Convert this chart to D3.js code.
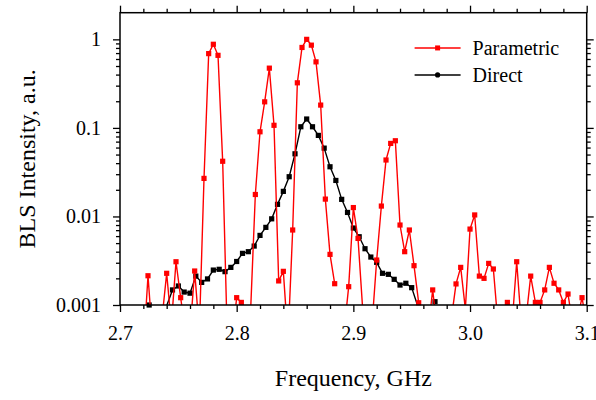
<!DOCTYPE html>
<html>
<head>
<meta charset="utf-8">
<script src="https://cdn.jsdelivr.net/npm/d3@7"></script>
<style>
    body { margin: 0; background: #fff; }
    svg text { font-family: "Liberation Serif", "Times New Roman", serif; fill: #000; }
</style>
</head>
<body>
<div id="chart"></div>
<script>
// Parametric spectrum (red), step 0.004 GHz; null = no signal
const paramFreq = [2.720, 2.724, 2.728, 2.732, 2.736, 2.740, 2.744, 2.748, 2.752, 2.756,
    2.760, 2.764, 2.768, 2.772, 2.776, 2.780, 2.784, 2.788, 2.792, 2.796,
    2.800, 2.804, 2.808, 2.812, 2.816, 2.820, 2.824, 2.828, 2.832, 2.836,
    2.840, 2.844, 2.848, 2.852, 2.856, 2.860, 2.864, 2.868, 2.872, 2.876,
    2.880, 2.884, 2.888, 2.892, 2.896, 2.900, 2.904, 2.908, 2.912, 2.916,
    2.920, 2.924, 2.928, 2.932, 2.936, 2.940, 2.944, 2.948, 2.952, 2.956,
    2.960, 2.964, 2.968, 2.972, 2.976, 2.980, 2.984, 2.988, 2.992, 2.996,
    3.000, 3.004, 3.008, 3.012, 3.016, 3.020, 3.024, 3.028, 3.032, 3.036,
    3.040, 3.044, 3.048, 3.052, 3.056, 3.060, 3.064, 3.068, 3.072, 3.076,
    3.080, 3.084, 3.088, 3.092, 3.096, 3.100];
const paramIntensity = [0.0003, 0.00214, 0.0004, 0.0003, 0.0007, 0.00228, 0.0006, 0.00308, 0.00121, 0.0005,
    0.0005, 0.00242, 0.0005, 0.0269, 0.69, 0.88, 0.66, 0.042, 0.0004, 0.0004,
    0.00121, 0.00107, 0.0009, 0.0009, 0.0177, 0.0904, 0.197, 0.473, 0.107, 0.00187,
    0.0024, 0.0004, 0.00703, 0.323, 0.81, 1.0, 0.86, 0.557, 0.181, 0.0157,
    0.00373, 0.00174, null, 0.0005, 0.00161, 0.0126, 0.00565, 0.0009, 0.0004, 0.0006,
    0.00322, 0.0131, 0.0434, 0.0668, 0.0716, 0.008, 0.004, 0.00703, 0.00278, 0.00106,
    0.0005, 0.0005, 0.00148, 0.0005, 0.0004, 0.0004, 0.0007, 0.00173, 0.00266, 0.0009,
    0.0072, 0.0104, 0.00212, 0.002, 0.00295, 0.00255, 0.0006, 0.0006, 0.00107, 0.0006,
    0.00308, 0.0006, 0.0007, 0.00212, 0.00107, 0.00107, 0.00148, 0.00266, 0.00176, 0.00148,
    0.00107, 0.00133, 0.0006, 0.0007, 0.00121, 0.0006];

// Direct spectrum (black), step 0.005 GHz
const directFreq = [2.725, 2.730, 2.735, 2.740, 2.745, 2.750, 2.755, 2.760, 2.765, 2.770,
    2.775, 2.780, 2.785, 2.790, 2.795, 2.800, 2.805, 2.810, 2.815, 2.820,
    2.825, 2.830, 2.835, 2.840, 2.845, 2.850, 2.855, 2.860, 2.865, 2.870,
    2.875, 2.880, 2.885, 2.890, 2.895, 2.900, 2.905, 2.910, 2.915, 2.920,
    2.925, 2.930, 2.935, 2.940, 2.945, 2.950, 2.955, 2.960, 2.965, 2.970, 2.975];
const directIntensity = [0.001, 0.0005, 0.0005, 0.00098, 0.00148, 0.00164, 0.0014, 0.00136, 0.00212, 0.0018,
    0.00197, 0.00248, 0.00253, 0.00238, 0.00266, 0.0031, 0.00383, 0.004, 0.00463, 0.00611,
    0.00753, 0.0094, 0.0137, 0.0192, 0.0281, 0.051, 0.103, 0.126, 0.103, 0.0823,
    0.0591, 0.0364, 0.0255, 0.0156, 0.0111, 0.0074, 0.0059, 0.00432, 0.00348, 0.00303,
    0.00228, 0.00222, 0.00195, 0.00168, 0.00176, 0.00157, 0.00099, null, null, 0.00109, null];

const xTicks = [2.7, 2.8, 2.9, 3.0, 3.1];
const yTicks = [0.001, 0.01, 0.1, 1];
const seriesNames = ["Parametric", "Direct"];

const margin = {top: 12.7, right: 9.3, bottom: 95, left: 120},
      width = 596 - margin.left - margin.right,
      height = 400 - margin.top - margin.bottom;

const svg = d3.select("#chart")
    .append("svg")
    .attr("width", 596)
    .attr("height", 400);

const g = svg.append("g")
    .attr("transform", "translate(" + margin.left + "," + margin.top + ")");

const x = d3.scaleLinear().domain([2.7, 3.1]).range([0, width]);
const y = d3.scaleLog().domain([0.001, 2]).range([height, 0]);

g.append("defs").append("clipPath")
    .attr("id", "plot-clip")
    .append("rect")
    .attr("width", width)
    .attr("height", height);

function drawAxes() {
    let xMinor = [];
    for (let i = 0; i <= 20; i++) xMinor.push(2.7 + i * 0.02);
    xMinor = xMinor.filter(function (v) {
        return !xTicks.some(function (t) { return Math.abs(t - v) < 1e-6; });
    });
    let yMinor = [];
    yTicks.forEach(function (d) {
        for (let m = 2; m <= 9; m++) if (d * m < 2) yMinor.push(d * m);
    });

    function styleAxis(sel) {
        sel.select(".domain").remove();
        sel.selectAll("line").attr("stroke", "#000").attr("stroke-width", 1.3);
        sel.selectAll("text")
            .style("font-size", "20px");
    }

    // bottom
    g.append("g").attr("transform", "translate(0," + height + ")")
        .call(d3.axisBottom(x).tickValues(xTicks).tickSize(7).tickPadding(14)
            .tickFormat(d3.format(".1f")))
        .call(styleAxis);
    g.append("g").attr("transform", "translate(0," + height + ")")
        .call(d3.axisBottom(x).tickValues(xMinor).tickSize(4).tickFormat(""))
        .call(styleAxis);
    // top
    g.append("g")
        .call(d3.axisTop(x).tickValues(xTicks).tickSize(7).tickFormat(""))
        .call(styleAxis);
    g.append("g")
        .call(d3.axisTop(x).tickValues(xMinor).tickSize(4).tickFormat(""))
        .call(styleAxis);
    // left
    g.append("g")
        .call(d3.axisLeft(y).tickValues(yTicks).tickSize(7).tickPadding(12)
            .tickFormat(function (d) { return String(d); }))
        .call(styleAxis);
    g.append("g")
        .call(d3.axisLeft(y).tickValues(yMinor).tickSize(4).tickFormat(""))
        .call(styleAxis);
    // right
    g.append("g").attr("transform", "translate(" + width + ",0)")
        .call(d3.axisRight(y).tickValues(yTicks).tickSize(7).tickFormat(""))
        .call(styleAxis);
    g.append("g").attr("transform", "translate(" + width + ",0)")
        .call(d3.axisRight(y).tickValues(yMinor).tickSize(4).tickFormat(""))
        .call(styleAxis);

    g.append("rect")
        .attr("width", width)
        .attr("height", height)
        .attr("fill", "none")
        .attr("stroke", "#000")
        .attr("stroke-width", 1.5);
}

function drawSeries(freqs, values, color) {
    const pts = freqs.map(function (f, i) { return {x: f, y: values[i]}; });
    const line = d3.line()
        .defined(function (d) { return d.y !== null; })
        .x(function (d) { return x(d.x); })
        .y(function (d) { return y(d.y); });

    g.append("path")
        .datum(pts)
        .attr("clip-path", "url(#plot-clip)")
        .attr("fill", "none")
        .attr("stroke", color)
        .attr("stroke-width", 1.4)
        .attr("d", line);

    g.append("g").selectAll("rect")
        .data(pts.filter(function (d) { return d.y !== null && d.y >= 0.001; }))
        .join("rect")
        .attr("x", function (d) { return x(d.x) - 2.6; })
        .attr("y", function (d) { return y(d.y) - 2.6; })
        .attr("width", 5.2)
        .attr("height", 5.2)
        .attr("fill", color);
}

function drawLegend() {
    const colors = ["#ff0000", "#000000"];
    const legend = g.append("g").attr("transform", "translate(" + x(2.9525) + "," + y(0.8) + ")");
    seriesNames.forEach(function (name, i) {
        const row = legend.append("g").attr("transform", "translate(0," + (i * 27) + ")");
        row.append("line")
            .attr("x1", 0).attr("x2", 46)
            .attr("stroke", colors[i])
            .attr("stroke-width", 1.4);
        if (i === 0) {
            row.append("rect")
                .attr("x", 20.5).attr("y", -2.5)
                .attr("width", 5).attr("height", 5)
                .attr("fill", colors[i]);
        } else {
            row.append("circle")
                .attr("cx", 23).attr("r", 2.6)
                .attr("fill", colors[i]);
        }
        row.append("text")
            .attr("x", 58)
            .attr("y", 7)
            .style("font-size", "20px")
            .text(name);
    });
}

drawSeries(directFreq, directIntensity, "#000000");
drawSeries(paramFreq, paramIntensity, "#ff0000");
drawAxes();
drawLegend();

g.append("text")
    .attr("x", width / 2)
    .attr("y", height + 81)
    .attr("text-anchor", "middle")
    .style("font-size", "24px")
    .text("Frequency, GHz");

g.append("text")
    .attr("transform", "translate(" + (-85) + "," + (height / 2) + ") rotate(-90)")
    .attr("text-anchor", "middle")
    .style("font-size", "24px")
    .text("BLS Intensity, a.u.");
</script>
</body>
</html>
